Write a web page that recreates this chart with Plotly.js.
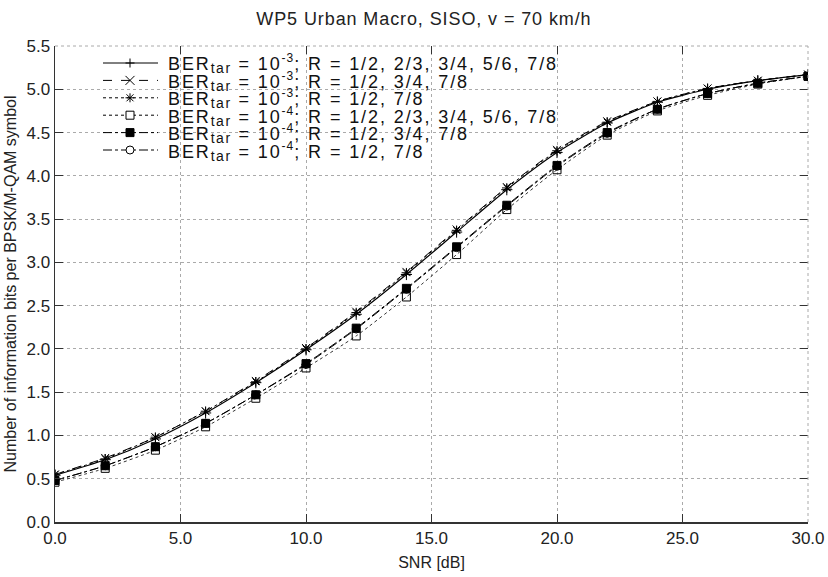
<!DOCTYPE html>
<html><head><meta charset="utf-8">
<script src="https://cdn.plot.ly/plotly-3.0.1.min.js"></script>
<style>body{margin:0;background:#fff}#c{width:828px;height:577px}</style>
</head><body><div id="c"></div>
<script>
const snr = [0,2,4,6,8,10,12,14,16,18,20,22,24,26,28,30];
const names = [
 'BER<sub>tar</sub> = 10<sup>-3</sup>; R = 1/2, 2/3, 3/4, 5/6, 7/8',
 'BER<sub>tar</sub> = 10<sup>-3</sup>; R = 1/2, 3/4, 7/8',
 'BER<sub>tar</sub> = 10<sup>-3</sup>; R = 1/2, 7/8',
 'BER<sub>tar</sub> = 10<sup>-4</sup>; R = 1/2, 2/3, 3/4, 5/6, 7/8',
 'BER<sub>tar</sub> = 10<sup>-4</sup>; R = 1/2, 3/4, 7/8',
 'BER<sub>tar</sub> = 10<sup>-4</sup>; R = 1/2, 7/8'
];
const s1 = [0.54,0.72,0.96,1.26,1.61,1.99,2.40,2.86,3.35,3.84,4.27,4.61,4.85,5.00,5.10,5.17];
const s2 = [0.55,0.74,0.98,1.28,1.63,2.01,2.43,2.89,3.38,3.87,4.30,4.63,4.86,5.01,5.10,5.17];
const s3 = [0.55,0.73,0.98,1.28,1.62,2.00,2.42,2.88,3.37,3.86,4.29,4.62,4.86,5.01,5.10,5.17];
const s4 = [0.46,0.62,0.83,1.10,1.43,1.78,2.15,2.60,3.09,3.61,4.07,4.47,4.75,4.93,5.06,5.15];
const s5 = [0.48,0.65,0.87,1.14,1.47,1.83,2.24,2.70,3.18,3.66,4.12,4.50,4.77,4.95,5.07,5.15];
const s6 = [0.48,0.65,0.87,1.14,1.47,1.82,2.23,2.69,3.17,3.65,4.11,4.49,4.77,4.95,5.07,5.15];

const series = [s1,s2,s3,s4,s5,s6];
const dashes = ['solid','dash','dot','dot','dashdot','dashdot'];
const symbols = ['cross-thin-open','x-thin-open','asterisk-open','square-open','square','circle-open'];
const widths = [1.2,1,1,0.8,1,1];
const traces = series.map((y,i)=>({
  x: snr, y: y, name: names[i], type:'scatter', mode:'lines+markers', showlegend:false,
  line:{color:'#000', width:widths[i], dash:dashes[i], shape:'spline', smoothing:0.6},
  marker:{symbol:symbols[i], size:8, color:'#000', line:{color:'#000', width:1}}
}));
traces.push({x:[0],y:[0],xaxis:'x2',yaxis:'y2',mode:'markers',marker:{opacity:0},showlegend:false,hoverinfo:'skip'});

// ---- manual legend (layout decoration) ----
const L = 55, W = 753, H = 476;
const px = v => (v - L) / W;
const py = v => (522 - v) / H;
const shapes = [
  {type:'line', xref:'paper', yref:'paper', x0:0, x1:1, y0:1, y1:1, line:{color:'#aaa', width:1, dash:'dot'}},
  {type:'line', xref:'paper', yref:'paper', x0:1, x1:1, y0:0, y1:1, line:{color:'#aaa', width:1, dash:'dot'}},
  {type:'rect', xref:'paper', yref:'paper', x0:px(95), x1:px(688), y0:py(162), y1:py(50), fillcolor:'#fff', line:{width:0}, layer:'between'}
];
const annotations = [];
const rowY = i => 63 + 17.4*i;
function mk(i, xc, yc){
  const xa = px(xc), ya = py(yc), s = 4.5;
  const base = {xref:'paper', yref:'paper', xsizemode:'pixel', ysizemode:'pixel', xanchor:xa, yanchor:ya, line:{color:'#000', width:1}};
  const seg = (a,b,c,d)=>Object.assign({type:'line', x0:a, x1:b, y0:c, y1:d}, base);
  const sym = symbols[i];
  if (sym==='cross-thin-open'){ shapes.push(seg(-s,s,0,0), seg(0,0,-s,s)); }
  else if (sym==='x-thin-open'){ shapes.push(seg(-s,s,-s,s), seg(-s,s,s,-s)); }
  else if (sym==='asterisk-open'){ shapes.push(seg(-s,s,0,0), seg(0,0,-s,s), seg(-3.5,3.5,-3.5,3.5), seg(-3.5,3.5,3.5,-3.5)); }
  else if (sym==='square-open'){ shapes.push(Object.assign({type:'rect', x0:-4, x1:4, y0:-4, y1:4, fillcolor:'#fff'}, base)); }
  else if (sym==='square'){ shapes.push(Object.assign({type:'rect', x0:-4, x1:4, y0:-4, y1:4, fillcolor:'#000'}, base)); }
  else { shapes.push(Object.assign({type:'circle', x0:-4, x1:4, y0:-4, y1:4, fillcolor:'#fff'}, base)); }
}
names.forEach((n,i)=>{
  const y = rowY(i);
  shapes.push({type:'line', xref:'paper', yref:'paper', x0:px(103), x1:px(158), y0:py(y), y1:py(y), line:{color:'#000', width:1, dash:dashes[i]}});
  mk(i, 130, y);
  const txt = '<span style="letter-spacing:1.9px">' +
    n.replace('<sub>tar</sub>','<sub><span style="font-size:14px;letter-spacing:1.5px">tar</span></sub>')
     .replace(/<sup>(-\d)<\/sup>/,'<sup><span style="font-size:12px;letter-spacing:1px">$1</span></sup>') + '</span>';
  annotations.push({xref:'paper', yref:'paper', x:px(166), y:py(y+1), xanchor:'left', yanchor:'middle', text:txt, showarrow:false, font:{size:18, color:'#111'}});
});

const layout = {
  width:828, height:577,
  paper_bgcolor:'#fff', plot_bgcolor:'#fff',
  margin:{l:55, r:20, t:46, b:55},
  font:{family:'"Liberation Sans", Arial, sans-serif', color:'#222', size:14},
  title:{text:'<span style="letter-spacing:0.9px">WP5 Urban Macro, SISO, v = 70 km/h</span>', x:0.512, xanchor:'center', y:0.978, yanchor:'top', font:{size:18}},
  showlegend:false,
  xaxis:{range:[0,30], dtick:5, tickformat:'.1f', ticks:'inside', ticklen:8, tickcolor:'#333',
    showline:true, linecolor:'#333', linewidth:1.5, showgrid:true, gridcolor:'#aaa', griddash:'dot', gridwidth:1,
    zeroline:false, tickfont:{size:17}, title:{text:'SNR [dB]', font:{size:16}, standoff:10}},
  yaxis:{range:[0,5.5], dtick:0.5, tickformat:'.1f', ticks:'inside', ticklen:8, tickcolor:'#333',
    showline:true, linecolor:'#333', linewidth:1.5, showgrid:true, gridcolor:'#aaa', griddash:'dot', gridwidth:1,
    zeroline:false, tickfont:{size:17}, title:{text:'Number of information bits per BPSK/M-QAM symbol', font:{size:16}, standoff:6}},
  xaxis2:{overlaying:'x', side:'top', range:[0,30], dtick:5, ticks:'inside', ticklen:8, tickcolor:'#333', showticklabels:false, showgrid:false, zeroline:false, showline:false},
  yaxis2:{overlaying:'y', side:'right', range:[0,5.5], dtick:0.5, ticks:'inside', ticklen:8, tickcolor:'#333', showticklabels:false, showgrid:false, zeroline:false, showline:false},
  shapes: shapes,
  annotations: annotations
};
Plotly.newPlot('c', traces, layout, {displayModeBar:false, staticPlot:true});
</script></body></html>
